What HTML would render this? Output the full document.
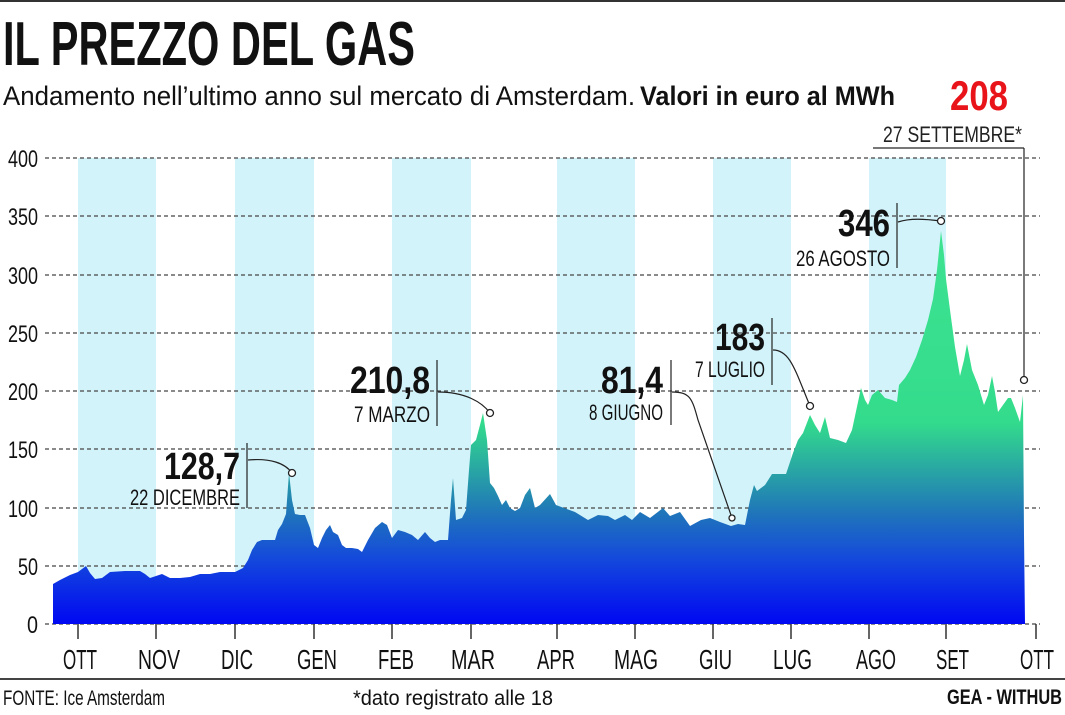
<!DOCTYPE html>
<html><head><meta charset="utf-8"><style>
html,body{margin:0;padding:0;background:#fff;}
svg{display:block;}
text{font-family:"Liberation Sans",sans-serif;}
</style></head><body>
<svg width="1065" height="715" viewBox="0 0 1065 715" xmlns="http://www.w3.org/2000/svg">
<defs>
<linearGradient id="g" gradientUnits="userSpaceOnUse" x1="0" y1="220" x2="0" y2="624">
<stop offset="0" stop-color="#3ee391"/>
<stop offset="0.5" stop-color="#33dc8c"/>
<stop offset="0.72" stop-color="#2078b8"/>
<stop offset="0.84" stop-color="#1448dc"/>
<stop offset="1" stop-color="#0008f2"/>
</linearGradient>
</defs>
<rect x="0" y="0" width="1065" height="2" fill="#333"/>
<text x="3" y="65" font-size="62" font-weight="bold" textLength="412" lengthAdjust="spacingAndGlyphs" fill="#111">IL PREZZO DEL GAS</text>
<text x="3" y="105" font-size="27" textLength="632" lengthAdjust="spacingAndGlyphs" fill="#111">Andamento nell’ultimo anno sul mercato di Amsterdam.</text>
<text x="640" y="105" font-size="27" font-weight="bold" textLength="255" lengthAdjust="spacingAndGlyphs" fill="#111">Valori in euro al MWh</text>
<text x="950" y="110" font-size="42" font-weight="bold" textLength="58" lengthAdjust="spacingAndGlyphs" fill="#e8141a">208</text>
<text x="883" y="142" font-size="22" textLength="139" lengthAdjust="spacingAndGlyphs" fill="#222">27 SETTEMBRE*</text>
<line x1="873" y1="148" x2="1024" y2="148" stroke="#777" stroke-width="2"/>

<g fill="#d3f3fb">
<rect x="78" y="158" width="78" height="466"/>
<rect x="235" y="158" width="79" height="466"/>
<rect x="392" y="158" width="79" height="466"/>
<rect x="557" y="158" width="78" height="466"/>
<rect x="713" y="158" width="78" height="466"/>
<rect x="869" y="158" width="77" height="466"/>
</g>
<g stroke="#444" stroke-width="1.2" stroke-dasharray="4,3">
<line x1="45" y1="158" x2="1040" y2="158"/>
<line x1="45" y1="216" x2="1040" y2="216"/>
<line x1="45" y1="275" x2="1040" y2="275"/>
<line x1="45" y1="333" x2="1040" y2="333"/>
<line x1="45" y1="391" x2="1040" y2="391"/>
<line x1="45" y1="449" x2="1040" y2="449"/>
<line x1="45" y1="508" x2="1040" y2="508"/>
<line x1="45" y1="566" x2="1040" y2="566"/>
<line x1="45" y1="624" x2="1040" y2="624"/>
</g>
<g font-size="24" fill="#111" lengthAdjust="spacingAndGlyphs">
<text x="8" y="167" textLength="30" lengthAdjust="spacingAndGlyphs">400</text>
<text x="8" y="225" textLength="30" lengthAdjust="spacingAndGlyphs">350</text>
<text x="8" y="284" textLength="30" lengthAdjust="spacingAndGlyphs">300</text>
<text x="8" y="342" textLength="30" lengthAdjust="spacingAndGlyphs">250</text>
<text x="8" y="400" textLength="30" lengthAdjust="spacingAndGlyphs">200</text>
<text x="8" y="458" textLength="30" lengthAdjust="spacingAndGlyphs">150</text>
<text x="8" y="517" textLength="30" lengthAdjust="spacingAndGlyphs">100</text>
<text x="18" y="575" textLength="20" lengthAdjust="spacingAndGlyphs">50</text>
<text x="27" y="633" textLength="11" lengthAdjust="spacingAndGlyphs">0</text>
</g>

<path fill="url(#g)" d="M53,624 L53,584 L60,580 L70,575 L78,572 L86,566 L90,573 L95,579 L102,578 L110,572 L125,571 L140,571 L145,574 L150,578 L156,576 L162,574 L170,578 L180,578 L190,577 L200,574 L210,574 L220,572 L228,572 L235,572 L243,568 L248,560 L252,550 L257,542 L262,540 L270,540 L275,540 L278,530 L282,524 L286,514 L289,473 L292,500 L295,514 L300,515 L305,515 L310,528 L314,545 L318,548 L322,538 L326,530 L330,525 L333,532 L338,535 L342,545 L346,548 L352,548 L358,549 L362,552 L368,540 L375,528 L382,522 L387,525 L392,538 L398,530 L405,532 L412,535 L418,540 L425,532 L430,538 L435,542 L440,540 L448,540 L451,500 L453,478 L456,520 L462,518 L466,510 L469,470 L471,445 L476,440 L480,425 L483,413 L487,440 L490,483 L494,488 L498,496 L502,505 L506,500 L510,508 L515,511 L520,508 L525,495 L530,488 L535,508 L540,505 L550,494 L556,505 L564,508 L575,512 L588,520 L598,515 L608,516 L615,520 L625,515 L632,520 L640,512 L650,518 L663,508 L670,516 L680,512 L690,526 L701,520 L710,518 L720,522 L731,526 L738,524 L745,525 L750,500 L754,485 L757,491 L765,485 L772,474 L780,474 L786,474 L793,453 L798,440 L803,433 L810,415 L815,425 L820,433 L825,417 L830,438 L838,440 L846,443 L852,430 L858,402 L861,388 L865,400 L868,405 L872,395 L878,390 L885,398 L892,400 L897,402 L899,385 L905,378 L910,370 L916,357 L922,340 L928,320 L933,299 L937,270 L941,231 L944,255 L946,279 L950,310 L955,347 L960,376 L964,360 L967,344 L972,370 L978,385 L984,405 L988,395 L992,376 L995,392 L998,412 L1003,405 L1008,398 L1011,398 L1015,408 L1020,422 L1023,395 L1024,535 L1025,624 Z"/>

<g stroke="#333" stroke-width="1.5">
<line x1="78" y1="624" x2="78" y2="639"/><line x1="156" y1="624" x2="156" y2="639"/>
<line x1="235" y1="624" x2="235" y2="639"/><line x1="314" y1="624" x2="314" y2="639"/>
<line x1="392" y1="624" x2="392" y2="639"/><line x1="471" y1="624" x2="471" y2="639"/>
<line x1="557" y1="624" x2="557" y2="639"/><line x1="635" y1="624" x2="635" y2="639"/>
<line x1="713" y1="624" x2="713" y2="639"/><line x1="791" y1="624" x2="791" y2="639"/>
<line x1="869" y1="624" x2="869" y2="639"/><line x1="946" y1="624" x2="946" y2="639"/>
<line x1="1036" y1="624" x2="1036" y2="639"/>
</g>
<g font-size="28" fill="#111">
<text x="63" y="669" textLength="34" lengthAdjust="spacingAndGlyphs">OTT</text>
<text x="138" y="669" textLength="42" lengthAdjust="spacingAndGlyphs">NOV</text>
<text x="221" y="669" textLength="32" lengthAdjust="spacingAndGlyphs">DIC</text>
<text x="297" y="669" textLength="40" lengthAdjust="spacingAndGlyphs">GEN</text>
<text x="378" y="669" textLength="36" lengthAdjust="spacingAndGlyphs">FEB</text>
<text x="451" y="669" textLength="44" lengthAdjust="spacingAndGlyphs">MAR</text>
<text x="537" y="669" textLength="38" lengthAdjust="spacingAndGlyphs">APR</text>
<text x="614" y="669" textLength="44" lengthAdjust="spacingAndGlyphs">MAG</text>
<text x="699" y="669" textLength="33" lengthAdjust="spacingAndGlyphs">GIU</text>
<text x="773" y="669" textLength="39" lengthAdjust="spacingAndGlyphs">LUG</text>
<text x="856" y="669" textLength="40" lengthAdjust="spacingAndGlyphs">AGO</text>
<text x="936" y="669" textLength="33" lengthAdjust="spacingAndGlyphs">SET</text>
<text x="1020" y="669" textLength="34" lengthAdjust="spacingAndGlyphs">OTT</text>
</g>

<g fill="none" stroke="#222" stroke-width="1.2">
<line x1="247" y1="443" x2="247" y2="508"/>
<path d="M248,460 C270,458 285,463 292,473"/>
<line x1="437" y1="360" x2="437" y2="426"/>
<path d="M438,392 C465,392 482,402 490,413"/>
<line x1="671" y1="360" x2="671" y2="425"/>
<path d="M672,392 C690,392 692,398 698,420 L732,518"/>
<line x1="772" y1="318" x2="772" y2="385"/>
<path d="M773,350 C790,350 795,370 810,406"/>
<line x1="897" y1="203" x2="897" y2="268"/>
<path d="M898,222 C910,218 925,219 941,221"/>
<line x1="1024" y1="148" x2="1024" y2="380"/>
</g>
<g fill="#fff" stroke="#222" stroke-width="1.3">
<circle cx="292" cy="473" r="3.5"/><circle cx="490" cy="413" r="3.5"/>
<circle cx="732" cy="518" r="3"/><circle cx="810" cy="406" r="3.5"/>
<circle cx="941" cy="221" r="3.5"/><circle cx="1024" cy="380" r="3.5"/>
</g>
<g fill="#111" text-anchor="end">
<text x="240" y="479" font-size="38" font-weight="bold" textLength="76" lengthAdjust="spacingAndGlyphs">128,7</text>
<text x="240" y="505" font-size="22" textLength="110" lengthAdjust="spacingAndGlyphs">22 DICEMBRE</text>
<text x="430" y="393" font-size="38" font-weight="bold" textLength="80" lengthAdjust="spacingAndGlyphs">210,8</text>
<text x="430" y="422" font-size="22" textLength="76" lengthAdjust="spacingAndGlyphs">7 MARZO</text>
<text x="663" y="393" font-size="38" font-weight="bold" textLength="62" lengthAdjust="spacingAndGlyphs">81,4</text>
<text x="663" y="420" font-size="22" textLength="74" lengthAdjust="spacingAndGlyphs">8 GIUGNO</text>
<text x="765" y="350" font-size="38" font-weight="bold" textLength="50" lengthAdjust="spacingAndGlyphs">183</text>
<text x="765" y="377" font-size="22" textLength="70" lengthAdjust="spacingAndGlyphs">7 LUGLIO</text>
<text x="890" y="236" font-size="38" font-weight="bold" textLength="52" lengthAdjust="spacingAndGlyphs">346</text>
<text x="890" y="266" font-size="22" textLength="94" lengthAdjust="spacingAndGlyphs">26 AGOSTO</text>
</g>

<rect x="0" y="678" width="1065" height="2" fill="#444"/>
<text x="3" y="705" font-size="21" textLength="162" lengthAdjust="spacingAndGlyphs" fill="#111">FONTE: Ice Amsterdam</text>
<text x="353" y="705" font-size="21" textLength="200" lengthAdjust="spacingAndGlyphs" fill="#111">*dato registrato alle 18</text>
<text x="1062" y="704" font-size="21" font-weight="bold" text-anchor="end" textLength="115" lengthAdjust="spacingAndGlyphs" fill="#111">GEA - WITHUB</text>
</svg>
</body></html>
